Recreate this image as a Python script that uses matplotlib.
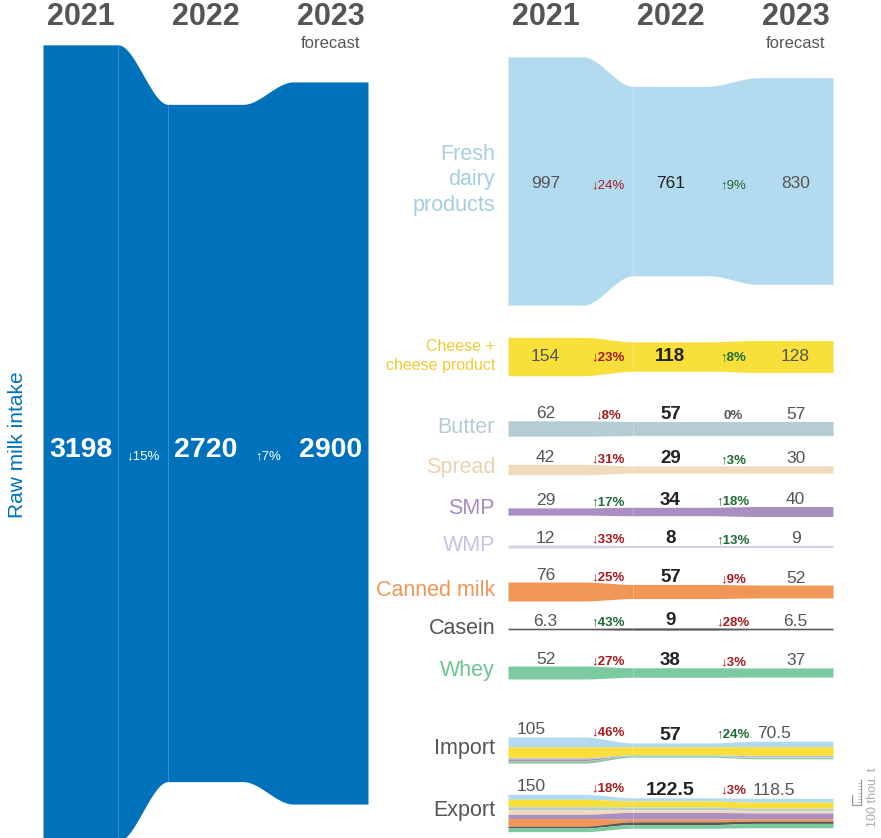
import numpy as np
import matplotlib.pyplot as plt

plt.rcParams['font.family'] = ['Liberation Sans', 'DejaVu Sans']

years = ['2021', '2022', '2023']

# raw milk intake, thousand t
raw_milk = [3198, 2720, 2900]
raw_milk_change = ['↓15%', '↑7%']

# dairy output, thousand t
products = ['Fresh\ndairy\nproducts', 'Cheese +\ncheese product', 'Butter', 'Spread', 'SMP',
            'WMP', 'Canned milk', 'Casein', 'Whey']
fresh = [997, 761, 830]
cheese = [154, 118, 128]
butter = [62, 57, 57]
spread = [42, 29, 30]
smp = [29, 34, 40]
wmp = [12, 8, 9]
canned = [76, 57, 52]
casein = [6.3, 9, 6.5]
whey = [52, 38, 37]
output = [fresh, cheese, butter, spread, smp, wmp, canned, casein, whey]
changes = [['↓24%', '↑9%'], ['↓23%', '↑8%'], ['↓8%', '0%'], ['↓31%', '↑3%'],
           ['↑17%', '↑18%'], ['↓33%', '↑13%'], ['↓25%', '↓9%'], ['↑43%', '↓28%'],
           ['↓27%', '↓3%']]

# trade split by product (same order as products)
import_total = [105, 57, 70.5]
import_parts = [[40, 16, 22], [43, 32, 35], [4, 2, 3], [1, 0, 0], [7, 1, 3],
                [0, 1, 3], [2, 0, 0], [0, 0, 0], [8, 5, 4.5]]
import_change = ['↓46%', '↑24%']
export_total = [150, 122.5, 118.5]
export_parts = [[20, 13, 16], [30, 24, 24], [11, 11, 9], [19, 11, 10], [17, 27, 23],
                [0, 0, 0], [31, 11, 10], [7, 11, 9], [15, 14.5, 17.5]]
export_change = ['↓18%', '↓3%']

colors = ['#b3dbef', '#f9df3a', '#b3cdd3', '#f0dcbd', '#aa8fc3', '#d4d0e8', '#f09656',
          '#595959', '#7cca9f']
label_colors = ['#a6cde0', '#f2c935', '#b3cdd3', '#ead3b0', '#a58cc5', '#c7c4e2', '#f09656',
                '#555555', '#6cc394']

BLUE = '#0072bb'
GREY = '#555555'
DARK = '#222222'
RED = '#a31b1f'
GREEN = '#1e6b34'

K = 0.249          # pixels per thousand t
W, GAP = 75, 50    # column block width, transition width
LEFT_X0, RIGHT_X0 = 43, 508


def smooth(t):
    return t * t * (3 - 2 * t)


def profile(x0, vals):
    xs, ys = [], []
    for i in range(3):
        a = x0 + (W + GAP) * i
        xs += [a, a + W]
        ys += [vals[i], vals[i]]
        if i < 2:
            t = np.linspace(0, 1, 50)[1:-1]
            xs += list(a + W + GAP * t)
            ys += list(vals[i] + (vals[i + 1] - vals[i]) * smooth(t))
    return np.array(xs), np.array(ys)


def flow(ax, x0, tops, bottoms, color):
    xs, yt = profile(x0, tops)
    _, yb = profile(x0, bottoms)
    ax.fill_between(xs, yt, yb, color=color, lw=0)


def col_mid(x0, i):
    return x0 + (W + GAP) * i + W / 2


def gap_mid(x0, i):
    return x0 + (W + GAP) * i + W + GAP / 2


def pct_color(s):
    if s.startswith('↓'):
        return RED
    if s.startswith('↑'):
        return GREEN
    return GREY


fig = plt.figure(figsize=(8.81, 8.38), dpi=100)
ax = fig.add_axes([0, 0, 1, 1])
ax.set_xlim(0, 881)
ax.set_ylim(838, 0)
ax.axis('off')

# year headers
for x0 in (LEFT_X0, RIGHT_X0):
    for i, yr in enumerate(years):
        ax.text(col_mid(x0, i), 17, yr, ha='center', va='center', fontsize=22,
                fontweight='bold', color=GREY)
    ax.text(col_mid(x0, 2), 43, 'forecast', ha='center', va='center', fontsize=12,
            color=GREY)

# raw milk intake
c = 443
h = np.array(raw_milk) * K
flow(ax, LEFT_X0, c - h / 2, c + h / 2, BLUE)
for xl in (LEFT_X0 + W, LEFT_X0 + W + GAP):
    ax.plot([xl, xl], [0, 838], color='white', lw=0.6, alpha=0.25)
for i, v in enumerate(raw_milk):
    ax.text(col_mid(LEFT_X0, i), 450, str(v), ha='center', va='center', fontsize=20.5,
            fontweight='bold', color='white')
for i, s in enumerate(raw_milk_change):
    ax.text(gap_mid(LEFT_X0, i), 456, s, ha='center', va='center', fontsize=9.5,
            color='white')
ax.text(18, 445, 'Raw milk intake', rotation=90, ha='center', va='center', fontsize=15,
        color=BLUE)

# product rows
centers = [181, 356.5, 428.5, 469.5, 511.5, 546.5, 591.5, 629, 672.5]
label_y = [180, 356, 427, 467, 508, 545, 590, 628, 670]
for r, vals in enumerate(output):
    c = centers[r]
    h = np.array(vals) * K
    tops = c - h / 2
    flow(ax, RIGHT_X0, tops, c + h / 2, colors[r])
    inside = r < 2
    for i, v in enumerate(vals):
        y = c + (3 if r == 0 else 0) if inside else tops[i] - 2.5
        va = 'center' if inside else 'baseline'
        bold = i == 1 and r > 0
        ax.text(col_mid(RIGHT_X0, i), y, f'{v:g}', ha='center', va=va,
                fontsize=13.5 if bold else 12.5, fontweight='bold' if bold else 'normal',
                color=DARK if i == 1 else GREY)
    for i, s in enumerate(changes[r]):
        y = c + (4 if r == 0 else 1) if inside else (tops[i] + tops[i + 1]) / 2 - 2.5
        va = 'center' if inside else 'baseline'
        ax.text(gap_mid(RIGHT_X0, i), y, s, ha='center', va=va, fontsize=9.5,
                fontweight='normal' if r == 0 else 'bold', color=pct_color(s))
    fs = 11.5 if r == 1 else 15.5
    ax.text(495, label_y[r], products[r], ha='right', va='center', fontsize=fs,
            color=label_colors[r], linespacing=1.3 if r == 0 else 1.4)

# import / export as stacked bands
trade = [('Import', import_total, import_parts, import_change, 750, 748),
         ('Export', export_total, export_parts, export_change, 813, 810)]
for name, total, parts, chg, c, ly in trade:
    tot = np.array(total, dtype=float)
    top = c - tot * K / 2
    cum = top.copy()
    for j, p in enumerate(parts):
        p = np.array(p, dtype=float) * K
        if p.max() > 0:
            flow(ax, RIGHT_X0, cum, cum + p, colors[j])
        cum = cum + p
    xs_val = [531, col_mid(RIGHT_X0, 1), 774]
    for i, v in enumerate(total):
        bold = i == 1
        ax.text(xs_val[i], top[i] - 3, f'{v:g}', ha='center', va='baseline',
                fontsize=14 if bold else 12.5, fontweight='bold' if bold else 'normal',
                color=DARK if bold else GREY)
    for i, s in enumerate(chg):
        ax.text(gap_mid(RIGHT_X0, i), (top[i] + top[i + 1]) / 2 - 5, s, ha='center',
                va='baseline', fontsize=9.5, fontweight='bold', color=pct_color(s))
    ax.text(495, ly, name, ha='right', va='center', fontsize=15.5, color=GREY)

ax.plot([RIGHT_X0 + W + GAP] * 2, [50, 838], color='white', lw=0.6, alpha=0.3)

# scale bar: 100 thousand t
bar = 100 * K
y1 = 805
ax.plot([852, 852, 861, 861], [y1 - 10, y1, y1, y1 - bar], color='#999999', lw=0.9)
for t in np.linspace(y1 - bar, y1, 9)[1:-1]:
    ax.plot([858, 861], [t, t], color='#999999', lw=0.4)
ax.text(873, 797, '100 thou. t', rotation=90, ha='center', va='center', fontsize=9,
        color='#aaaaaa')

fig.savefig('out.png', dpi=100)
